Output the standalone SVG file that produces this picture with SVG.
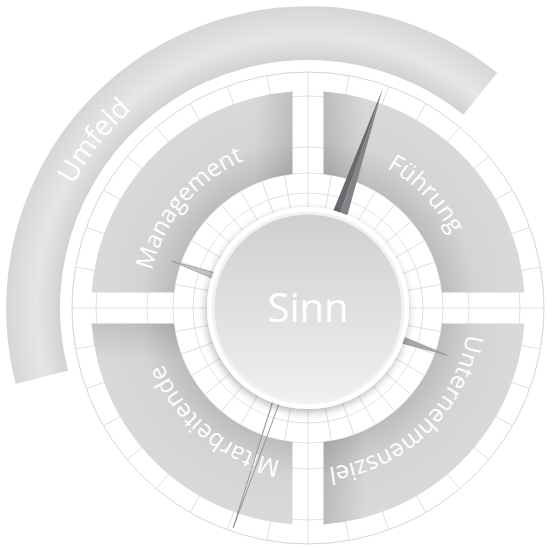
<svg xmlns="http://www.w3.org/2000/svg" xmlns:xlink="http://www.w3.org/1999/xlink" width="552" height="548" viewBox="0 0 552 548">
<defs>
<style>
.grid{stroke:#d9d9d9;stroke-width:0.8;fill:none}
.gridc{stroke:#cfcfcf;stroke-width:0.9;fill:none}
.lbl{font-family:"Open Sans","Noto Sans","Liberation Sans",sans-serif;fill:#ffffff}
.q{fill:url(#qgrad)}
</style>
<radialGradient id="qgrad" gradientUnits="userSpaceOnUse" cx="308" cy="308" r="217">
<stop offset="0.62" stop-color="#bcbcbc"/>
<stop offset="0.78" stop-color="#d4d4d4"/>
<stop offset="1" stop-color="#d9d9d9"/>
</radialGradient>
<radialGradient id="ugrad" gradientUnits="userSpaceOnUse" cx="308" cy="308" r="302">
<stop offset="0.82" stop-color="#d2d2d2"/>
<stop offset="0.9" stop-color="#e6e6e6"/>
<stop offset="1" stop-color="#d6d6d6"/>
</radialGradient>
<linearGradient id="shL" gradientUnits="userSpaceOnUse" x1="323.5" y1="0" x2="365" y2="0">
<stop offset="0" stop-color="#000" stop-opacity="0.13"/>
<stop offset="1" stop-color="#000" stop-opacity="0"/>
</linearGradient>
<linearGradient id="shR" gradientUnits="userSpaceOnUse" x1="292.5" y1="0" x2="255" y2="0">
<stop offset="0" stop-color="#000" stop-opacity="0.12"/>
<stop offset="1" stop-color="#000" stop-opacity="0"/>
</linearGradient>
<linearGradient id="shT" gradientUnits="userSpaceOnUse" x1="0" y1="323.5" x2="0" y2="360">
<stop offset="0" stop-color="#000" stop-opacity="0.1"/>
<stop offset="1" stop-color="#000" stop-opacity="0"/>
</linearGradient>
<linearGradient id="sinnGrad" x1="0" y1="0" x2="0" y2="1">
<stop offset="0" stop-color="#cfcfcf"/>
<stop offset="1" stop-color="#f0f0f0"/>
</linearGradient>
<filter id="shadow" x="-20%" y="-20%" width="140%" height="140%">
<feGaussianBlur in="SourceAlpha" stdDeviation="4"/>
<feOffset dx="-1" dy="3" result="b"/>
<feComponentTransfer><feFuncA type="linear" slope="0.3"/></feComponentTransfer>
<feMerge><feMergeNode/><feMergeNode in="SourceGraphic"/></feMerge>
</filter>
<line id="rl" x1="308" y1="72" x2="308" y2="210" class="grid"/>
<path id="pF" d="M206.7,182.9 A161,161 0 0 1 429.5,413.6"/>
<path id="pU" d="M433.1,206.7 A161,161 0 0 1 202.4,429.5"/>
<path id="pMi" d="M430.4,411.5 A161,161 0 0 1 181.9,207.5"/>
<path id="pMa" d="M194.2,421.8 A161,161 0 0 1 400.3,176.1"/>
<path id="pUm" d="M144.8,516.8 A265,265 0 0 1 471.2,99.2"/>
</defs>
<rect width="552" height="548" fill="#ffffff"/>

<g id="umfeld">
<path d="M15.8,384.1 A302,302 0 0 1 497.2,72.7 L463.4,114.7 A248,248 0 0 0 68.0,370.5 Z" fill="url(#ugrad)"/>
<text class="lbl" font-size="28"><textPath href="#pUm" startOffset="50%" text-anchor="middle">Umfeld</textPath></text>
</g>

<g id="grid">
<circle cx="308" cy="308" r="236" class="gridc"/>
<circle cx="308" cy="308" r="212" class="grid"/>
<circle cx="308" cy="308" r="161" class="grid"/>
<circle cx="308" cy="308" r="135" class="grid"/>
<circle cx="308" cy="308" r="115" class="grid"/>
<use href="#rl"/>
<use href="#rl" transform="rotate(10 308 308)"/>
<use href="#rl" transform="rotate(20 308 308)"/>
<use href="#rl" transform="rotate(30 308 308)"/>
<use href="#rl" transform="rotate(40 308 308)"/>
<use href="#rl" transform="rotate(50 308 308)"/>
<use href="#rl" transform="rotate(60 308 308)"/>
<use href="#rl" transform="rotate(70 308 308)"/>
<use href="#rl" transform="rotate(80 308 308)"/>
<use href="#rl" transform="rotate(90 308 308)"/>
<use href="#rl" transform="rotate(100 308 308)"/>
<use href="#rl" transform="rotate(110 308 308)"/>
<use href="#rl" transform="rotate(120 308 308)"/>
<use href="#rl" transform="rotate(130 308 308)"/>
<use href="#rl" transform="rotate(140 308 308)"/>
<use href="#rl" transform="rotate(150 308 308)"/>
<use href="#rl" transform="rotate(160 308 308)"/>
<use href="#rl" transform="rotate(170 308 308)"/>
<use href="#rl" transform="rotate(180 308 308)"/>
<use href="#rl" transform="rotate(190 308 308)"/>
<use href="#rl" transform="rotate(200 308 308)"/>
<use href="#rl" transform="rotate(210 308 308)"/>
<use href="#rl" transform="rotate(220 308 308)"/>
<use href="#rl" transform="rotate(230 308 308)"/>
<use href="#rl" transform="rotate(240 308 308)"/>
<use href="#rl" transform="rotate(250 308 308)"/>
<use href="#rl" transform="rotate(260 308 308)"/>
<use href="#rl" transform="rotate(270 308 308)"/>
<use href="#rl" transform="rotate(280 308 308)"/>
<use href="#rl" transform="rotate(290 308 308)"/>
<use href="#rl" transform="rotate(300 308 308)"/>
<use href="#rl" transform="rotate(310 308 308)"/>
<use href="#rl" transform="rotate(320 308 308)"/>
<use href="#rl" transform="rotate(330 308 308)"/>
<use href="#rl" transform="rotate(340 308 308)"/>
<use href="#rl" transform="rotate(350 308 308)"/>
</g>

<g id="fuehrung">
<path class="q" d="M323.5,91.55 A217,217 0 0 1 524.45,292.5 L442.11,292.5 A135,135 0 0 0 323.5,173.89 Z"/>
<path fill="url(#shL)" d="M323.5,91.55 A217,217 0 0 1 524.45,292.5 L442.11,292.5 A135,135 0 0 0 323.5,173.89 Z"/>
<text class="lbl" font-size="24"><textPath href="#pF" startOffset="50%" text-anchor="middle">Führung</textPath></text>
</g>

<g id="unternehmensziel">
<path class="q" d="M524.45,323.5 A217,217 0 0 1 323.5,524.45 L323.5,442.11 A135,135 0 0 0 442.11,323.5 Z"/>
<path fill="url(#shL)" d="M524.45,323.5 A217,217 0 0 1 323.5,524.45 L323.5,442.11 A135,135 0 0 0 442.11,323.5 Z"/>
<text class="lbl" font-size="24"><textPath href="#pU" startOffset="50%" text-anchor="middle">Unternehmensziel</textPath></text>
</g>

<g id="mitarbeitende">
<path class="q" d="M292.5,524.45 A217,217 0 0 1 91.55,323.5 L173.89,323.5 A135,135 0 0 0 292.5,442.11 Z"/>
<path fill="url(#shT)" d="M292.5,524.45 A217,217 0 0 1 91.55,323.5 L173.89,323.5 A135,135 0 0 0 292.5,442.11 Z"/>
<text class="lbl" font-size="24"><textPath href="#pMi" startOffset="50%" text-anchor="middle">Mitarbeitende</textPath></text>
</g>

<g id="management">
<path class="q" d="M91.55,292.5 A217,217 0 0 1 292.5,91.55 L292.5,173.89 A135,135 0 0 0 173.89,292.5 Z"/>
<path fill="url(#shR)" d="M91.55,292.5 A217,217 0 0 1 292.5,91.55 L292.5,173.89 A135,135 0 0 0 173.89,292.5 Z"/>
<text class="lbl" font-size="24"><textPath href="#pMa" startOffset="50%" text-anchor="middle">Management</textPath></text>
</g>

<g id="needles">
<g transform="translate(308 308) rotate(-71.2)">
<polygon points="0,-13 232,0 0,0" fill="#68696d"/>
<polygon points="0,0 232,0 0,13" fill="#828387"/>
</g>
<g transform="translate(308 308) rotate(108.8)">
<polygon points="0,-6 232,0 0,6" fill="#ffffff" fill-opacity="0.15" stroke="#8a8a8a" stroke-width="0.8"/>
</g>
<g transform="translate(308 308) rotate(199)">
<polygon points="0,-10 144,0 0,10" fill="#c6c6c6" stroke="#8c8c8c" stroke-width="0.6"/>
</g>
<g transform="translate(308 308) rotate(18.7)">
<polygon points="0,-10 147,0 0,10" fill="#a9a9a9" stroke="#8c8c8c" stroke-width="0.6"/>
</g>
</g>

<g id="sinn">
<circle cx="308" cy="308" r="101" fill="#ffffff" filter="url(#shadow)"/>
<circle cx="308" cy="308" r="95" fill="url(#sinnGrad)" stroke="#f2f2f2" stroke-width="3"/>
<text class="lbl" x="308" y="322" font-size="40" text-anchor="middle">Sinn</text>
</g>
</svg>
